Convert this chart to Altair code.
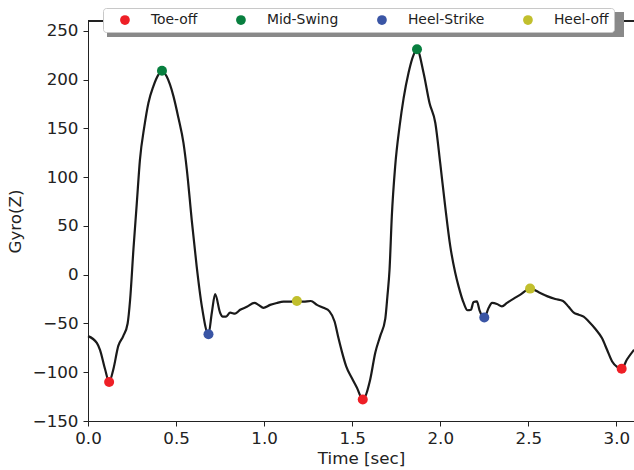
import altair as alt
import pandas as pd

# ---- data ----
time_s = [0.0, 0.05, 0.068, 0.097, 0.12, 0.144, 0.172, 0.2, 0.225, 0.239, 0.258, 0.277, 0.295,
          0.32, 0.343, 0.371, 0.4, 0.42, 0.447, 0.485, 0.513, 0.542, 0.561, 0.589, 0.617, 0.646,
          0.684, 0.703, 0.722, 0.75, 0.765, 0.784, 0.807, 0.835, 0.864, 0.902, 0.945, 0.968,
          0.996, 1.034, 1.072, 1.11, 1.148, 1.186, 1.223, 1.265, 1.3, 1.337, 1.371, 1.40, 1.422,
          1.441, 1.466, 1.498, 1.527, 1.56, 1.602, 1.631, 1.659, 1.688, 1.70, 1.712, 1.725,
          1.744, 1.769, 1.792, 1.82, 1.848, 1.868, 1.905, 1.939, 1.972, 2.0, 2.028, 2.057,
          2.085, 2.104, 2.133, 2.155, 2.174, 2.189, 2.208, 2.223, 2.25, 2.275, 2.294, 2.322,
          2.35, 2.379, 2.417, 2.455, 2.51, 2.559, 2.606, 2.653, 2.697, 2.729, 2.758, 2.786,
          2.814, 2.843, 2.881, 2.918, 2.947, 2.976, 3.004, 3.03, 3.06, 3.1]
gyro_z = [-63, -70, -77, -97, -110, -97, -73, -63, -50, -26, 26, 73, 118,
          152, 176, 193, 205, 209, 203, 183, 161, 135, 108, 56, 8.5, -32,
          -61, -39, -20, -39, -43, -43, -39, -40, -36, -33, -29, -31,
          -34, -31, -29, -27.7, -27.7, -27, -27.7, -27, -31, -34, -37.6, -48, -65,
          -78.6, -94, -106, -116, -128, -107.6, -80, -63, -45, -22, 5, 60,
          111, 152, 181, 207, 225, 231, 207, 176, 155.5, 114, 70, 29,
          2, -12, -29, -36.5, -36, -28, -27.3, -36.5, -44, -34, -29, -30,
          -32.5, -29, -24.6, -20.5, -14.3, -18, -22, -25, -27, -33, -39, -41,
          -43, -48, -55.7, -65, -77, -89, -94.6, -96.5, -87, -77]

event_names = ["Toe-off", "Mid-Swing", "Heel-Strike", "Heel-off"]
event_colors = ["#ee1f26", "#087f3f", "#3a55a5", "#c1bf2d"]

event_label = ["Toe-off", "Toe-off", "Toe-off", "Mid-Swing", "Mid-Swing",
               "Heel-Strike", "Heel-Strike", "Heel-off", "Heel-off"]
event_time = [0.12, 1.56, 3.03, 0.42, 1.868, 0.684, 2.25, 1.186, 2.51]
event_value = [-110, -128, -96.5, 209, 231, -61, -44, -27, -14.3]

x_ticks = [0.0, 0.5, 1.0, 1.5, 2.0, 2.5, 3.0]
y_ticks = [-150, -100, -50, 0, 50, 100, 150, 200, 250]

signal = pd.DataFrame({"t": time_s, "g": gyro_z})
events = pd.DataFrame({"t": event_time, "g": event_value, "event": event_label})

FONT = "DejaVu Sans"
INK = "#222222"

x_scale = alt.Scale(domain=[0, 3.1], nice=False, zero=False)
y_scale = alt.Scale(domain=[-150, 260], nice=False, zero=False)

x_axis = alt.Axis(values=x_ticks, format=".1f", title="Time [sec]", grid=False,
                  tickSize=5, labelPadding=4, titlePadding=4, labelFlush=False,
                  labelOverlap=False,
                  labelFont=FONT, titleFont=FONT, labelFontSize=16.7, titleFontSize=16.7,
                  titleFontWeight="normal", labelColor=INK, titleColor=INK,
                  domainColor=INK, tickColor=INK, domainWidth=1, tickWidth=1)
y_axis = alt.Axis(values=y_ticks, title="Gyro(Z)", grid=False,
                  tickSize=5, labelPadding=5, titlePadding=8, labelFlush=False,
                  labelOverlap=False,
                  labelFont=FONT, titleFont=FONT, labelFontSize=16.7, titleFontSize=16.7,
                  titleFontWeight="normal", labelColor=INK, titleColor=INK,
                  domainColor=INK, tickColor=INK, domainWidth=1, tickWidth=1)

line = alt.Chart(signal).mark_line(color="#1a1a1a", strokeWidth=2.2, interpolate="monotone").encode(
    x=alt.X("t:Q", scale=x_scale, axis=x_axis),
    y=alt.Y("g:Q", scale=y_scale, axis=y_axis),
)

points = alt.Chart(events).mark_circle(size=100, opacity=1).encode(
    x=alt.X("t:Q", scale=x_scale),
    y=alt.Y("g:Q", scale=y_scale),
    color=alt.Color("event:N", scale=alt.Scale(domain=event_names, range=event_colors),
                    legend=alt.Legend(orient="none", legendX=15, legendY=-13,
                                      direction="horizontal", columns=4, title=None,
                                      padding=5, symbolOffset=10, labelOffset=19,
                                      columnPadding=26, fillColor="white",
                                      strokeColor="#c8c8c8", cornerRadius=3,
                                      symbolSize=95, symbolType="circle",
                                      symbolStrokeWidth=0, labelFont=FONT,
                                      labelFontSize=13.9, labelColor=INK)),
)

# top spine
spine = alt.Chart(signal).mark_rule(color=INK, strokeWidth=1).encode(
    x=alt.value(0), x2=alt.value(546), y=alt.value(0))

# legend drop shadow
shadow = alt.Chart(signal).mark_rect(color="#888888", opacity=0.55).encode(
    x=alt.value(19), x2=alt.value(536), y=alt.value(-9), y2=alt.value(16))

chart = alt.layer(spine, line, points, shadow).properties(
    width=546, height=400,
    autosize=alt.AutoSizeParams(type="none"),
    padding={"left": 88, "top": 21, "right": 0, "bottom": 49},
).configure_view(stroke=None)

chart.save("out.html", embed_options={"renderer": "svg", "actions": False})
